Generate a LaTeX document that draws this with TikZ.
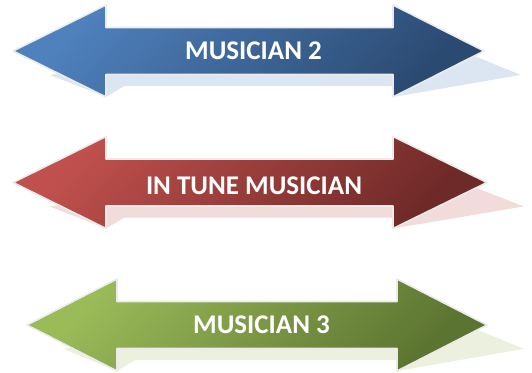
\documentclass[tikz,border=0pt]{standalone}
\usepackage{fontspec}
\setmainfont{Carlito}
\usetikzlibrary{calc}
\definecolor{mblue}{HTML}{4F81BD}
\definecolor{mbluedark}{HTML}{2B4A72}
\definecolor{mbluepale}{HTML}{DCE6F2}
\definecolor{mred}{HTML}{C0504D}
\definecolor{mreddark}{HTML}{6E2A28}
\definecolor{mredpale}{HTML}{F2DCDB}
\definecolor{mgreen}{HTML}{9BBB59}
\definecolor{mgreendark}{HTML}{5C7431}
\definecolor{mgreenpale}{HTML}{EBF1DE}

% double arrow: left tip x, left head base x, right head base x, right tip x, centre y
\newcommand{\dblarrow}[6][]{%
  \path[#1] (#2,#6) -- (#3,#6+46) -- (#3,#6+23.5) -- (#4,#6+23.5) -- (#4,#6+46)
    -- (#5,#6) -- (#4,#6-46) -- (#4,#6-23.5) -- (#3,#6-23.5) -- (#3,#6-46) -- cycle;}

\begin{document}
\begin{tikzpicture}[
    x=1pt, y=1pt,
    body/.style={draw=white!92!black, line width=1.6pt, line join=round},
    reflect/.style={yshift=#1, cm={1,0,0.8,0.48,(0,0)}, yshift=-#1},
    lbl/.style={font=\bfseries\fontsize{27}{30}\selectfont, text=white},
  ]
  \useasboundingbox (0,0) rectangle (532,372);

  % reflections below the arrows
  \dblarrow[fill=mbluepale, reflect=275]{13}{106}{393}{484}{321}
  \dblarrow[fill=mredpale, reflect=143.5]{13}{106}{393}{487}{189.5}
  \dblarrow[fill=mgreenpale, reflect=1]{27}{117}{397}{487}{47}

  % arrows
  \dblarrow[body, top color=mblue, bottom color=mbluedark, shading angle=47]{13}{106}{393}{484}{321}
  \dblarrow[body, top color=mred, bottom color=mreddark, shading angle=47]{13}{106}{393}{487}{189.5}
  \dblarrow[body, top color=mgreen, bottom color=mgreendark, shading angle=47]{27}{117}{397}{487}{47}

  % labels
  \node[lbl] (musician2) at (253.5,321) {MUSICIAN 2};
  \node[lbl] (intune) at (254,186) {IN TUNE MUSICIAN};
  \node[lbl] (musician3) at (261.5,47) {MUSICIAN 3};
\end{tikzpicture}
\end{document}
